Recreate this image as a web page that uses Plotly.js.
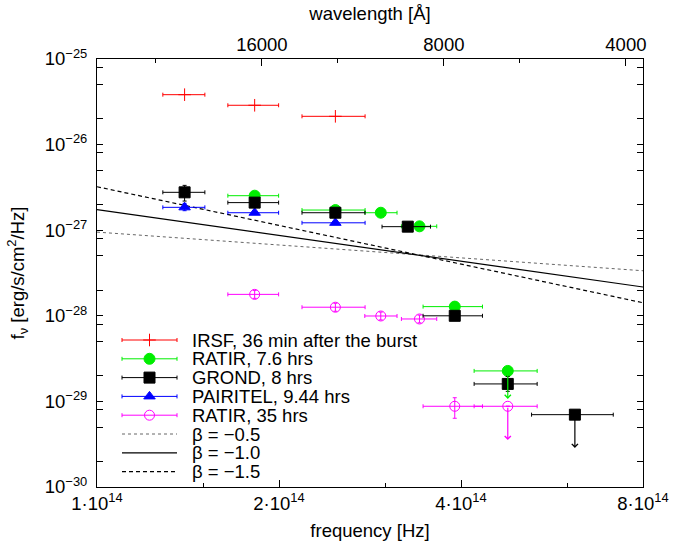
<!DOCTYPE html>
<html>
<head>
<meta charset="utf-8">
<script src="https://cdn.plot.ly/plotly-3.0.1.min.js"></script>
<style>html,body{margin:0;padding:0;background:#fff;}#chart{width:686px;height:549px;}</style>
</head>
<body>
<div id="chart"></div>
<script>
// ---------- data ----------
const C_ANGSTROM = 2.998e18; // speed of light in Å/s

// IRSF, 36 min after the burst
const irsfNu   = [1.396e14, 1.823e14, 2.479e14];
const irsfNuLo = [1.285e14, 1.646e14, 2.183e14];
const irsfNuHi = [1.508e14, 1.997e14, 2.776e14];
const irsfF    = [3.83e-26, 2.88e-26, 2.14e-26];

// RATIR, 7.6 hrs
const ratir1Nu   = [1.823e14, 2.479e14, 2.947e14, 3.415e14, 3.906e14, 4.780e14];
const ratir1NuLo = [1.646e14, 2.183e14, 2.773e14, 3.188e14, 3.462e14, 4.205e14];
const ratir1NuHi = [1.997e14, 2.776e14, 3.135e14, 3.647e14, 4.341e14, 5.346e14];
const ratir1F    = [2.53e-27, 1.72e-27, 1.60e-27, 1.11e-27, 1.28e-28, 2.27e-29];
const ratir1LimitTip = [null, null, null, null, null, 1.07e-29];

// GROND, 8 hrs
const grondNu   = [1.396e14, 1.823e14, 2.479e14, 3.266e14, 3.906e14, 4.780e14, 6.172e14];
const grondNuLo = [1.285e14, 1.646e14, 2.183e14, 2.961e14, 3.462e14, 4.205e14, 5.233e14];
const grondNuHi = [1.508e14, 1.997e14, 2.776e14, 3.561e14, 4.341e14, 5.346e14, 7.143e14];
const grondF    = [2.77e-27, 2.10e-27, 1.60e-27, 1.10e-27, 1.00e-28, 1.60e-29, 7.0e-30];
const grondFUp  = [0.57e-27, 0, 0, 0, 0, 0.36e-29, 0];
const grondFDn  = [0.58e-27, 0, 0, 0, 0, 0.29e-29, 0];
const grondLimitTip = [null, null, null, null, null, null, 2.86e-30];

// PAIRITEL, 9.44 hrs
const pairNu   = [1.396e14, 1.823e14, 2.479e14];
const pairNuLo = [1.285e14, 1.646e14, 2.183e14];
const pairNuHi = [1.508e14, 1.997e14, 2.776e14];
const pairF    = [1.85e-27, 1.60e-27, 1.22e-27];
const pairFUp  = [0.21e-27, 0, 0];
const pairFDn  = [0.16e-27, 0, 0];

// RATIR, 35 hrs
const ratir2Nu   = [1.823e14, 2.479e14, 2.947e14, 3.415e14, 3.906e14, 4.780e14];
const ratir2NuLo = [1.646e14, 2.183e14, 2.773e14, 3.188e14, 3.462e14, 4.205e14];
const ratir2NuHi = [1.997e14, 2.776e14, 3.135e14, 3.647e14, 4.341e14, 5.346e14];
const ratir2F    = [1.78e-28, 1.26e-28, 9.95e-29, 9.18e-29, 8.77e-30, 8.77e-30];
const ratir2FUp  = [0.20e-28, 0.14e-28, 0.11e-28, 0.10e-28, 2.27e-30, 0];
const ratir2FDn  = [0.18e-28, 0.13e-28, 0.10e-28, 0.09e-28, 2.42e-30, 0];
const ratir2LimitTip = [null, null, null, null, null, 3.54e-30];

// power-law models (end points)
const modelNu = [1e14, 8e14];
const modelB05 = [9.50e-28, 3.36e-28];
const modelB10 = [1.74e-27, 2.17e-28];
const modelB15 = [3.22e-27, 1.42e-28];

// axis ticks
const freqTicks = [1e14, 2e14, 4e14, 8e14];
const freqTickText = ['1·10<sup>14</sup>', '2·10<sup>14</sup>', '4·10<sup>14</sup>', '8·10<sup>14</sup>'];
const freqMinor = [1.5e14, 3e14, 6e14];
const waveTicks = [16000, 8000, 4000];
const waveMinor = [24000, 12000, 6000];
const fluxTicks = [1e-30, 1e-29, 1e-28, 1e-27, 1e-26, 1e-25];
const fluxTickText = ['10<sup>−30</sup>', '10<sup>−29</sup>', '10<sup>−28</sup>', '10<sup>−27</sup>', '10<sup>−26</sup>', '10<sup>−25</sup>'];
const fluxMinorMant = [2, 5, 8];

const legendLabels = ['IRSF, 36 min after the burst', 'RATIR, 7.6 hrs', 'GROND, 8 hrs',
  'PAIRITEL, 9.44 hrs', 'RATIR, 35 hrs', 'β = −0.5', 'β = −1.0', 'β = −1.5'];

// ---------- build ----------
const FONT = 'Liberation Sans, Arial, Helvetica, sans-serif';
const FS = 18.5;
const sub = (a, b) => a.map((v, i) => v - b[i]);

function series(nu, lo, hi, f, up, dn, color, symbol, size, name) {
  const t = {
    x: nu, y: f, type: 'scatter', mode: 'markers', name: name, showlegend: false,
    hoverinfo: 'skip',
    marker: {color: color, symbol: symbol, size: size, line: {color: color, width: 1}},
    error_x: {type: 'data', symmetric: false, array: sub(hi, nu), arrayminus: sub(nu, lo),
              color: color, thickness: 1, width: 2}
  };
  if (up) {
    t.error_y = {type: 'data', symmetric: false, array: up, arrayminus: dn,
                 color: color, thickness: 1, width: 2};
  }
  return t;
}

const cRed = '#ff0000', cGreen = '#00ee00', cBlack = '#000000', cBlue = '#0000ff', cMag = '#ff00ff';

const traces = [
  {x: modelNu, y: modelB05, mode: 'lines', line: {color: '#666666', width: 1, dash: 'dot'}, showlegend: false, hoverinfo: 'skip'},
  {x: modelNu, y: modelB10, mode: 'lines', line: {color: '#000000', width: 1.2}, showlegend: false, hoverinfo: 'skip'},
  {x: modelNu, y: modelB15, mode: 'lines', line: {color: '#000000', width: 1.2, dash: '4px,3px'}, showlegend: false, hoverinfo: 'skip'},
  series(irsfNu, irsfNuLo, irsfNuHi, irsfF, null, null, cRed, 'cross-thin-open', 9, legendLabels[0]),
  series(ratir2Nu, ratir2NuLo, ratir2NuHi, ratir2F, ratir2FUp, ratir2FDn, cMag, 'circle-open', 10, legendLabels[4]),
  series(pairNu, pairNuLo, pairNuHi, pairF, pairFUp, pairFDn, cBlue, 'triangle-up', 10, legendLabels[3]),
  series(ratir1Nu, ratir1NuLo, ratir1NuHi, ratir1F, null, null, cGreen, 'circle', 11, legendLabels[1]),
  series(grondNu, grondNuLo, grondNuHi, grondF, grondFUp, grondFDn, cBlack, 'square', 11, legendLabels[2]),
  // invisible trace to activate the top wavelength axis
  {x: [modelNu[0]], y: [modelB10[0]], xaxis: 'x2', yaxis: 'y', mode: 'markers',
   marker: {opacity: 0}, showlegend: false, hoverinfo: 'skip'}
];

// upper-limit arrows
const annotations = [];
function limits(nu, f, tips, color) {
  tips.forEach((tip, i) => {
    if (tip === null) return;
    annotations.push({xref: 'x', yref: 'y', axref: 'x', ayref: 'y',
      x: Math.log10(nu[i]), y: Math.log10(tip), ax: Math.log10(nu[i]), ay: Math.log10(f[i]),
      text: '', showarrow: true, arrowhead: 4, arrowsize: 1, arrowwidth: 1.2,
      arrowcolor: color, standoff: 0, startstandoff: 0});
  });
}
limits(ratir2Nu, ratir2F, ratir2LimitTip, cMag);
limits(ratir1Nu, ratir1F, ratir1LimitTip, cGreen);
limits(grondNu, grondF, grondLimitTip, cBlack);

// ---------- custom key (in plot-area fractions) ----------
const PL = 97, PR = 643, PT = 59, PB = 487;
const fx = px => (px - PL) / (PR - PL);
const fy = py => (PB - py) / (PB - PT);
const keyStyles = [
  {color: cRed, symbol: 'cross-thin-open', size: 9},
  {color: cGreen, symbol: 'circle', size: 11},
  {color: cBlack, symbol: 'square', size: 11},
  {color: cBlue, symbol: 'triangle-up', size: 10},
  {color: cMag, symbol: 'circle-open', size: 10},
  {line: {color: '#666666', width: 1, dash: 'dot'}},
  {line: {color: '#000000', width: 1.2}},
  {line: {color: '#000000', width: 1.2, dash: '4px,3px'}}
];
const keyX0 = fx(122), keyX1 = fx(177), keyXm = fx(149.5);
legendLabels.forEach((lab, i) => {
  const yy = fy(340 + i * 18.8);
  const s = keyStyles[i];
  if (s.symbol) {
    traces.push({x: [keyXm], y: [yy], xaxis: 'x3', yaxis: 'y3', mode: 'markers', showlegend: false,
      hoverinfo: 'skip', marker: {color: s.color, symbol: s.symbol, size: s.size, line: {color: s.color, width: 1}},
      error_x: {type: 'data', array: [keyX1 - keyXm], color: s.color, thickness: 1, width: 2}});
  } else {
    traces.push({x: [keyX0, keyX1], y: [yy, yy], xaxis: 'x3', yaxis: 'y3', mode: 'lines',
      showlegend: false, hoverinfo: 'skip', line: s.line});
  }
  annotations.push({xref: 'paper', yref: 'paper', x: fx(190), y: yy, xanchor: 'left', yanchor: 'middle',
    text: lab, showarrow: false, font: {family: FONT, size: FS, color: '#000'}});
});

const xr = [Math.log10(freqTicks[0]), Math.log10(freqTicks[freqTicks.length - 1])];
const fluxMinor = [];
for (let e = -30; e < -25; e++) fluxMinorMant.forEach(m => fluxMinor.push(m * Math.pow(10, e)));

const layout = {
  width: 686, height: 549,
  margin: {l: PL, r: 686 - PR, t: PT, b: 549 - PB, pad: 0},
  paper_bgcolor: '#fff', plot_bgcolor: '#fff',
  font: {family: FONT, size: FS, color: '#000'},
  showlegend: false,
  xaxis: {type: 'log', range: xr, tickmode: 'array', tickvals: freqTicks, ticktext: freqTickText,
    ticks: 'inside', ticklen: 7, tickcolor: '#000', showline: true, linecolor: '#000', linewidth: 1,
    mirror: false, showgrid: false, zeroline: false,
    minor: {tickmode: 'array', tickvals: freqMinor, ticks: 'inside', ticklen: 4, tickcolor: '#000', showgrid: false},
    title: {text: 'frequency [Hz]', font: {family: FONT, size: FS}, standoff: 10}},
  xaxis2: {type: 'log', range: xr, overlaying: 'x', side: 'top', anchor: 'y',
    tickmode: 'array', tickvals: waveTicks.map(w => C_ANGSTROM / w), ticktext: waveTicks.map(String),
    ticks: 'inside', ticklen: 7, tickcolor: '#000', showline: true, linecolor: '#000', linewidth: 1,
    showgrid: false, zeroline: false,
    minor: {tickmode: 'array', tickvals: waveMinor.map(w => C_ANGSTROM / w), ticks: 'inside', ticklen: 4, tickcolor: '#000', showgrid: false},
    title: {text: 'wavelength [Å]', font: {family: FONT, size: FS}, standoff: 8}},
  yaxis: {type: 'log', range: [-30, -25], tickmode: 'array', tickvals: fluxTicks, ticktext: fluxTickText,
    ticks: 'inside', ticklen: 6, tickcolor: '#000', showline: true, linecolor: '#000', linewidth: 1,
    mirror: 'allticks', showgrid: false, zeroline: false, ticklabelstandoff: 5,
    minor: {tickmode: 'array', tickvals: fluxMinor, ticks: 'inside', ticklen: 3.5, tickcolor: '#000', showgrid: false},
    title: {text: 'f<sub>ν</sub> [erg/s/cm<sup>2</sup>/Hz]', font: {family: FONT, size: FS}, standoff: 15}},
  xaxis3: {overlaying: 'x', range: [0, 1], visible: false, fixedrange: true},
  yaxis3: {overlaying: 'y', range: [0, 1], visible: false, fixedrange: true},
  annotations: annotations
};

Plotly.newPlot('chart', traces, layout, {staticPlot: true, displayModeBar: false});
</script>
</body>
</html>
